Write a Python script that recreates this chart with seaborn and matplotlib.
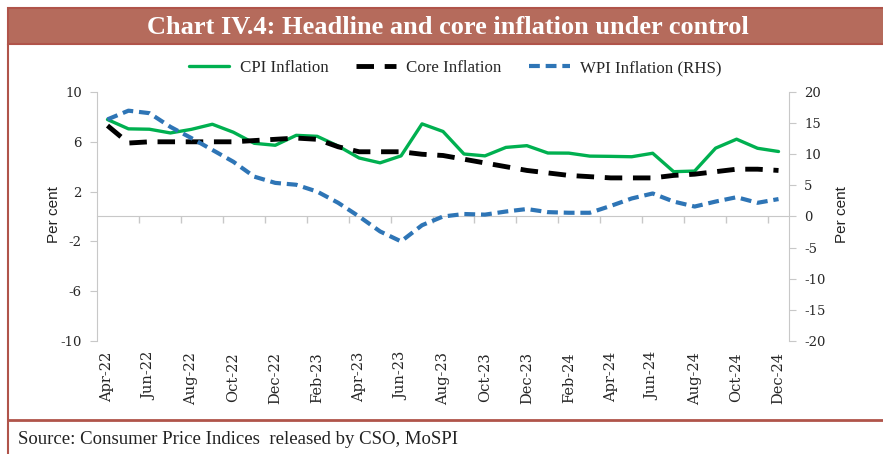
import numpy as np
import pandas as pd
import seaborn as sns
from matplotlib import pyplot as plt
from matplotlib.patches import Rectangle
from matplotlib.lines import Line2D

months = ["Apr-22", "May-22", "Jun-22", "Jul-22", "Aug-22", "Sep-22", "Oct-22",
          "Nov-22", "Dec-22", "Jan-23", "Feb-23", "Mar-23", "Apr-23", "May-23",
          "Jun-23", "Jul-23", "Aug-23", "Sep-23", "Oct-23", "Nov-23", "Dec-23",
          "Jan-24", "Feb-24", "Mar-24", "Apr-24", "May-24", "Jun-24", "Jul-24",
          "Aug-24", "Sep-24", "Oct-24", "Nov-24", "Dec-24"]
cpi = [7.79, 7.04, 7.01, 6.71, 7.00, 7.41, 6.77, 5.88, 5.72, 6.52, 6.44, 5.66,
       4.70, 4.31, 4.87, 7.44, 6.83, 5.02, 4.87, 5.55, 5.69, 5.10, 5.09, 4.85,
       4.83, 4.80, 5.08, 3.60, 3.65, 5.49, 6.21, 5.48, 5.22]
core = [7.3, 5.9, 6.0, 6.0, 6.0, 6.0, 6.0, 6.1, 6.2, 6.3, 6.2, 5.6, 5.2, 5.2,
        5.2, 5.0, 4.9, 4.6, 4.3, 4.0, 3.7, 3.5, 3.3, 3.2, 3.1, 3.1, 3.1, 3.3,
        3.4, 3.6, 3.8, 3.8, 3.7]
wpi = [15.6, 17.0, 16.6, 14.4, 12.6, 10.7, 8.8, 6.4, 5.4, 5.1, 4.0, 2.2, 0.0,
       -2.4, -4.0, -1.4, 0.0, 0.4, 0.3, 0.8, 1.2, 0.7, 0.6, 0.6, 1.7, 2.9, 3.7,
       2.4, 1.6, 2.4, 3.1, 2.2, 2.8]

left_ticks = [-10, -6, -2, 2, 6, 10]
right_ticks = [-20, -15, -10, -5, 0, 5, 10, 15, 20]

GREEN = "#00B050"
BLUE = "#2E75B6"
AXIS_GREY = "#C8C8C8"
FRAME = "#B0544A"
BAR = "#B56B5C"

df = pd.DataFrame({"t": np.arange(len(months)), "cpi": cpi, "core": core, "wpi": wpi})

sns.set_style("white")
plt.rcParams["font.family"] = ["DejaVu Serif"]

W, H = 883, 454
fig = plt.figure(figsize=(W / 100, H / 100), dpi=100)
ax = fig.add_axes([97 / W, 1 - 341 / H, 692 / W, 249 / H])
ax2 = ax.twinx()

sns.lineplot(data=df, x="t", y="cpi", ax=ax, color=GREEN, lw=2.4,
             solid_joinstyle="round", label="CPI Inflation", legend=False)
sns.lineplot(data=df, x="t", y="core", ax=ax, color="black", lw=3.5,
             linestyle=(0, (3.6, 2.2)), label="Core Inflation", legend=False)
sns.lineplot(data=df, x="t", y="wpi", ax=ax2, color=BLUE, lw=3.0,
             linestyle=(0, (2.6, 1.4)), label="WPI Inflation (RHS)", legend=False)

ax.set_xlim(-0.5, 32.5)
ax.set_ylim(-10, 10)
ax2.set_ylim(-20, 20)

# shared x: month labels every 2 months, tick marks between categories
ax.set_xticks(range(0, len(months), 2))
ax.set_xticklabels(months[::2], rotation=90, fontsize=10.5)
ax.set_xticks(np.arange(1.5, 32, 2), minor=True)
ax.set_xlabel("")
ax2.set_xlabel("")

# ax: category axis line crossing at zero, no labels
ax.spines["bottom"].set_position(("data", 0))
ax.spines["bottom"].set_color(AXIS_GREY)
ax.tick_params(axis="x", which="major", length=0, labelbottom=False)
ax.tick_params(axis="x", which="minor", bottom=True, length=5, width=1,
               color=AXIS_GREY, direction="out")
# ax2: month labels at the bottom of the plot
ax2.xaxis.set_visible(True)
ax2.tick_params(axis="x", which="both", bottom=True, labelbottom=True, length=0,
                pad=8, labelsize=10.5, labelrotation=90)

ax.set_yticks(left_ticks)
ax.set_yticklabels([str(v) for v in left_ticks], fontsize=9.5)
ax.tick_params(axis="y", left=True, length=5, color=AXIS_GREY, pad=6)
ax2.set_yticks(right_ticks)
ax2.set_yticklabels([str(v) for v in right_ticks], fontsize=9.5)
ax2.tick_params(axis="y", right=True, length=5, color=AXIS_GREY, pad=6)

ax.spines["top"].set_visible(False)
ax.spines["right"].set_visible(False)
ax.spines["left"].set_color(AXIS_GREY)
for side in ("top", "bottom", "left"):
    ax2.spines[side].set_visible(False)
ax2.spines["right"].set_color(AXIS_GREY)

lab = dict(family="Liberation Sans", fontsize=11, color="#222222")
ax.set_ylabel("Per cent", **lab)
ax.yaxis.set_label_coords(-0.052, 0.506)
ax2.set_ylabel("Per cent", **lab)
ax2.yaxis.set_label_coords(1.067, 0.506)

# frame, title bar and footer
fig.add_artist(Rectangle((8 / W, 1 - 44 / H), 1.0, 36 / H, transform=fig.transFigure,
                         facecolor=BAR, edgecolor=FRAME, lw=1.5))
fig.add_artist(Line2D([8 / W, 8 / W], [0, 1 - 44 / H], transform=fig.transFigure,
                      color=FRAME, lw=1.5))
fig.add_artist(Line2D([8 / W, 1], [1 - 420 / H, 1 - 420 / H], transform=fig.transFigure,
                      color=FRAME, lw=2))
fig.text(448 / W, 1 - 27 / H, "Chart IV.4: Headline and core inflation under control",
         ha="center", va="center", color="white", fontweight="bold",
         family="Liberation Serif", fontsize=19)
fig.text(18 / W, 1 - 439 / H, "Source: Consumer Price Indices  released by CSO, MoSPI",
         ha="left", va="center", family="Liberation Serif", fontsize=13.5, color="#222222")

handles = ax.get_lines()[:2] + ax2.get_lines()[:1]
fig.legend(handles, [h.get_label() for h in handles], loc="center",
           bbox_to_anchor=(455 / W, 1 - 68 / H), ncol=3, frameon=False,
           prop=dict(family="Liberation Serif", size=12.2),
           handlelength=2.4, handletextpad=0.6, columnspacing=1.6)

fig.savefig("out.png", dpi=100, facecolor="white")
